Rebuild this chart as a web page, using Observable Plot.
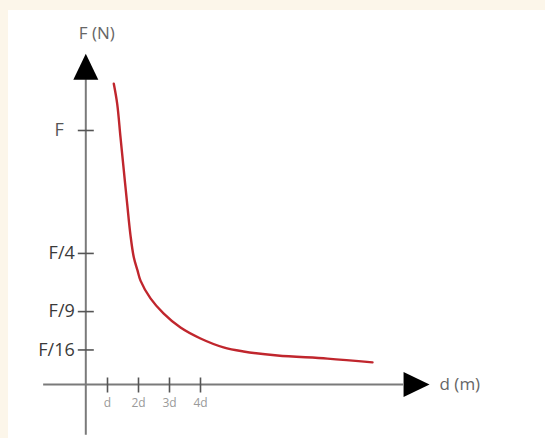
<!DOCTYPE html>
<html>
<head>
<meta charset="utf-8">
<script src="https://cdn.jsdelivr.net/npm/d3@7"></script>
<script src="https://cdn.jsdelivr.net/npm/@observablehq/plot@0.6"></script>
<style>
  html, body { margin: 0; padding: 0; background: #ffffff; overflow: hidden; }
  #wrap { position: relative; width: 545px; height: 438px; overflow: hidden; background: #ffffff; }
  .strip { position: absolute; background: #fcf6ea; }
  #chart { position: absolute; left: 0; top: 0; }
</style>
</head>
<body>
<div id="wrap">
  <div class="strip" style="left:0;top:0;width:545px;height:10px"></div>
  <div class="strip" style="left:0;top:0;width:8px;height:438px"></div>
  <div id="chart"></div>
</div>
<script>
// distance ticks (in units of d)
const dTicks = [1, 2, 3, 4];
const dTickLabels = ["d", "2d", "3d", "4d"];
// force ticks (schematic positions, in units where F = 1)
const fTicks = [1, 0.516, 0.287, 0.136];
const fTickLabels = ["F", "F/4", "F/9", "F/16"];
// red curve F(d)
const curveD = [1.203, 1.313, 1.419, 1.526, 1.635, 1.742, 1.848, 1.968, 2.065, 2.387, 2.806, 3.355, 4.0, 4.742, 5.387, 6.484, 8.097, 9.548];
const curveF = [1.184, 1.105, 0.974, 0.843, 0.711, 0.587, 0.501, 0.449, 0.409, 0.339, 0.280, 0.224, 0.181, 0.146, 0.130, 0.114, 0.102, 0.087];
// axes extents
const yAxisAt = [0.3];         // d where the force axis stands
const yAxisRange = [-0.2, 1.2];  // force axis from bottom to arrow base
const xAxisRange = [-1.06, 10.55]; // distance axis from left to arrow base
const axisTitles = ["F (N)", "d (m)"];

const curve = curveD.map((d, i) => ({d, f: curveF[i]}));
const yTickData = fTicks.map((f, i) => ({f, label: fTickLabels[i]}));
const xTickData = dTicks.map((d, i) => ({d, label: dTickLabels[i]}));

const axisColor = "#7a7a7a";
const arrow = {draw(ctx) { ctx.moveTo(0, -26); ctx.lineTo(12.5, 0); ctx.lineTo(-12.5, 0); ctx.closePath(); }};
const hTick = {draw(ctx) { ctx.moveTo(-8, 0); ctx.lineTo(8, 0); }};
const vTick = {draw(ctx) { ctx.moveTo(0, -7); ctx.lineTo(0, 8); }};

const W = 545, H = 438;
const chart = Plot.plot({
  width: W, height: H,
  margin: 0,
  style: {background: "transparent", fontFamily: "'Open Sans', sans-serif"},
  x: {domain: [-76 / 31, (W - 76) / 31], axis: null},
  y: {domain: [-(H - 384) / 254, 384 / 254], axis: null},
  marks: [
    // axes lines
    Plot.ruleY([0], {x1: xAxisRange[0], x2: xAxisRange[1], stroke: axisColor, strokeWidth: 2}),
    Plot.ruleX(yAxisAt, {y1: yAxisRange[0], y2: yAxisRange[1], stroke: axisColor, strokeWidth: 2}),
    // arrowheads
    Plot.dot(yAxisAt, {x: d => d, y: yAxisRange[1], symbol: arrow, fill: "#000", stroke: "none"}),
    Plot.dot([0], {x: xAxisRange[1], y: d => d, symbol: arrow, rotate: 90, fill: "#000", stroke: "none"}),
    // ticks
    Plot.dot(yTickData, {x: yAxisAt[0], y: "f", symbol: hTick, fill: "none", stroke: "#555", strokeWidth: 1.6}),
    Plot.dot(xTickData, {x: "d", y: 0, symbol: vTick, fill: "none", stroke: "#555", strokeWidth: 1.6}),
    // tick labels
    Plot.text(yTickData.filter(t => t.label !== "F"), {x: yAxisAt[0], y: "f", text: "label", textAnchor: "end", dx: -11, fontSize: 18, fill: "#3a3a3a"}),
    Plot.text(yTickData.filter(t => t.label === "F"), {x: yAxisAt[0], y: "f", text: "label", textAnchor: "end", dx: -22, fontSize: 18, fill: "#555"}),
    Plot.text(xTickData, {x: "d", y: 0, text: "label", dy: 19, fontSize: 12, fill: "#9a9a9a"}),
    // axis titles
    Plot.text([axisTitles[0]], {x: yAxisAt[0], y: yAxisRange[1], text: d => d, dx: 11, dy: -46, fontSize: 17, fill: "#666"}),
    Plot.text([axisTitles[1]], {x: xAxisRange[1], y: 0, text: d => d, textAnchor: "start", dx: 36, fontSize: 17, fill: "#666"}),
    // the curve
    Plot.line(curve, {x: "d", y: "f", curve: "catmull-rom", stroke: "#c0262d", strokeWidth: 2.4})
  ]
});
document.getElementById("chart").append(chart);
</script>
</body>
</html>
